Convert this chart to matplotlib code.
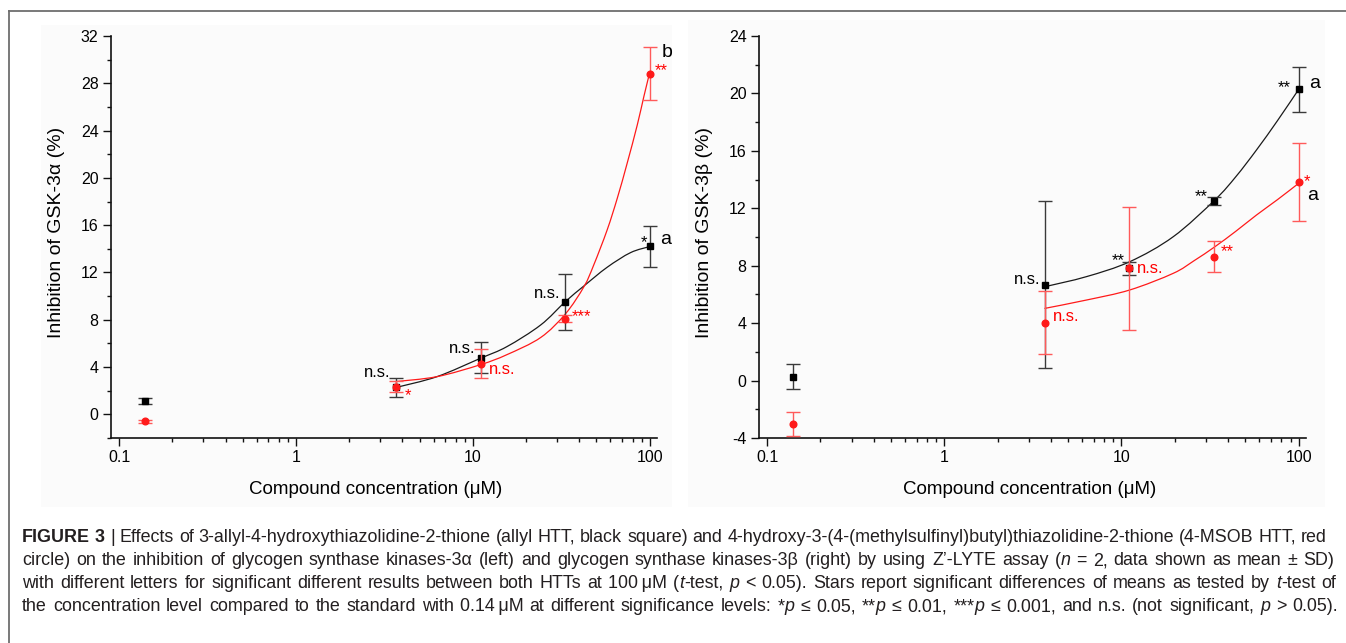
import numpy as np
import matplotlib
matplotlib.use("Agg")
import matplotlib.pyplot as plt
from matplotlib import ticker, font_manager
from matplotlib.patches import Rectangle, PathPatch
from matplotlib.path import Path
from matplotlib.lines import Line2D

# ---------------- data ----------------
conc = [0.14, 3.7, 11.1, 33.3, 100]

# GSK-3alpha (left)
alpha_allyl = [1.1, 2.3, 4.8, 9.5, 14.2]
alpha_allyl_sd = [0.25, 0.8, 1.3, 2.35, 1.7]
alpha_msob = [-0.6, 2.35, 4.3, 8.1, 28.8]
alpha_msob_sd = [0.15, 0.5, 1.2, 0.3, 2.25]

# GSK-3beta (right)
beta_allyl = [0.26, 6.69, 7.81, 12.52, 20.28]
beta_allyl_sd = [0.87, 5.83, 0.45, 0.3, 1.58]
beta_msob = [-3.04, 4.04, 7.81, 8.64, 13.82]
beta_msob_sd = [0.84, 2.2, 4.3, 1.08, 2.72]

# fitted curves (knots of the smooth fit lines)
alpha_allyl_fit_x = [3.72, 6.28, 11.04, 15.6, 24.2, 33.4, 42.5, 57.5, 78.0, 100]
alpha_allyl_fit_y = [2.29, 3.19, 4.74, 5.73, 7.56, 9.54, 10.86, 12.44, 13.68, 14.19]
alpha_msob_fit_x = [3.65, 6.28, 11.04, 15.6, 24.2, 33.4, 42.5, 48.3, 57.5, 65.6, 74.6, 85.1, 92.7, 100]
alpha_msob_fit_y = [2.77, 3.19, 4.2, 5.05, 6.5, 8.5, 10.8, 12.64, 15.6, 18.28, 21.24, 24.48, 26.88, 28.9]

beta_allyl_fit_x = [3.7, 6.35, 11.14, 19.6, 33.65, 44.2, 57.8, 75.9, 100]
beta_allyl_fit_y = [6.54, 7.24, 8.28, 10.02, 12.58, 14.2, 16.06, 18.1, 20.28]
beta_msob_fit_x = [3.7, 6.35, 11.14, 19.6, 25.7, 33.65, 44.2, 57.8, 75.9, 100]
beta_msob_fit_y = [5.03, 5.61, 6.31, 7.47, 8.35, 9.32, 10.4, 11.53, 12.6, 13.74]

x_tick_vals = [0.1, 1, 10, 100]
x_tick_labels = ["0.1", "1", "10", "100"]

# significance labels: (text, series, index, dx_px, dy_px, ha, colour, size)
alpha_marks = [
    ("n.s.", "allyl", 1, -6, 15, "right", "black", 12),
    ("*", "msob", 1, 12, -9, "center", "red", 12),
    ("n.s.", "allyl", 2, -5, 9, "right", "black", 12),
    ("n.s.", "msob", 2, 8, -6, "left", "red", 12),
    ("n.s.", "allyl", 3, -5, 9, "right", "black", 12),
    ("***", "msob", 3, 7, 2, "left", "red", 12),
    ("*", "allyl", 4, -6, 4, "center", "black", 12),
    ("a", "allyl", 4, 16, 7, "center", "black", 14),
    ("b", "msob", 4, 17, 21, "center", "black", 14),
    ("**", "msob", 4, 12, 3, "center", "red", 12),
]
beta_marks = [
    ("n.s.", "allyl", 1, -5, 5, "right", "black", 12),
    ("n.s.", "msob", 1, 8, 6, "left", "red", 12),
    ("**", "allyl", 2, -11, 8, "center", "black", 12),
    ("n.s.", "msob", 2, 7, 0, "left", "red", 12),
    ("**", "allyl", 3, -13, 4, "center", "black", 12),
    ("**", "msob", 3, 13, 5, "center", "red", 12),
    ("**", "allyl", 4, -14, 2, "center", "black", 12),
    ("a", "allyl", 4, 16, 6, "center", "black", 14),
    ("*", "msob", 4, 8, 1, "center", "red", 12),
    ("a", "msob", 4, 14, -13, "center", "black", 14),
]

caption_lines = [
    [("FIGURE 3", "bold"), (" | Effects of 3-allyl-4-hydroxythiazolidine-2-thione (allyl HTT, black square) and 4-hydroxy-3-(4-(methylsulfinyl)butyl)thiazolidine-2-thione (4-MSOB HTT, red", "normal")],
    [("circle) on the inhibition of glycogen synthase kinases-3\u03b1 (left) and glycogen synthase kinases-3\u03b2 (right) by using Z\u2019-LYTE assay (", "normal"), ("n", "italic"), (" = 2, data shown as mean \u00b1 SD)", "normal")],
    [("with different letters for significant different results between both HTTs at 100\u2009\u03bcM (", "normal"), ("t", "italic"), ("-test, ", "normal"), ("p", "italic"), (" < 0.05). Stars report significant differences of means as tested by ", "normal"), ("t", "italic"), ("-test of", "normal")],
    [("the concentration level compared to the standard with 0.14\u2009\u03bcM at different significance levels: *", "normal"), ("p", "italic"), (" \u2264 0.05, **", "normal"), ("p", "italic"), (" \u2264 0.01, ***", "normal"), ("p", "italic"), (" \u2264 0.001, and n.s. (not significant, ", "normal"), ("p", "italic"), (" > 0.05).", "normal")],
]

# ---------------- style ----------------
installed = {f.name for f in font_manager.fontManager.ttflist}
axis_font = "Liberation Sans" if "Liberation Sans" in installed else "DejaVu Sans"
cap_font = "Liberation Sans Narrow" if "Liberation Sans Narrow" in installed else axis_font
plt.rcParams["font.family"] = [axis_font, "DejaVu Sans"]
plt.rcParams["axes.unicode_minus"] = False

W, H = 1346, 643
fig = plt.figure(figsize=(W / 100, H / 100), dpi=100)
fig.patch.set_facecolor("white")

# faint panel backgrounds and frame
for (x0, y0, x1, y1) in [(41, 25, 672, 507), (688, 20, 1325, 507)]:
    fig.patches.append(Rectangle((x0 / W, 1 - y1 / H), (x1 - x0) / W, (y1 - y0) / H,
                                 transform=fig.transFigure, facecolor="#fbfbfb",
                                 edgecolor="none", zorder=-5))
fig.lines.append(Line2D([9 / W, 1], [1 - 10.5 / H, 1 - 10.5 / H], transform=fig.transFigure,
                        color="#6e6e6e", lw=1.3))
fig.lines.append(Line2D([9 / W, 9 / W], [0, 1 - 10.5 / H], transform=fig.transFigure,
                        color="#6e6e6e", lw=1.3))

ax1 = fig.add_axes([111 / W, 1 - 438 / H, 546 / W, 402 / H])
ax2 = fig.add_axes([759 / W, 1 - 438 / H, 547 / W, 402 / H])

BLACK_ERR = "#3a3a3a"
RED = "#ff1a1a"
RED_ERR = "#ff5a5a"


def smooth_curve(ax, xs, ys, color, z):
    """Draw a smooth Bezier line through the knots (smoothing in log-x space)."""
    u = np.log10(np.asarray(xs, float))
    v = np.asarray(ys, float)
    n = len(u)
    verts = [(xs[0], ys[0])]
    codes = [Path.MOVETO]
    for i in range(n - 1):
        i0 = max(i - 1, 0)
        i3 = min(i + 2, n - 1)
        c1u = u[i] + (u[i + 1] - u[i0]) / 6.0
        c1v = v[i] + (v[i + 1] - v[i0]) / 6.0
        c2u = u[i + 1] - (u[i3] - u[i]) / 6.0
        c2v = v[i + 1] - (v[i3] - v[i]) / 6.0
        verts += [(10 ** c1u, c1v), (10 ** c2u, c2v), (xs[i + 1], ys[i + 1])]
        codes += [Path.CURVE4] * 3
    ax.add_patch(PathPatch(Path(verts, codes), fill=False, edgecolor=color, lw=0.9,
                           zorder=z, capstyle="round", joinstyle="round"))


def draw_panel(ax, allyl, allyl_sd, msob, msob_sd, afx, afy, mfx, mfy, marks, ylim, ylabel, xl_x):
    ax.set_facecolor("none")
    ax.set_xscale("log")
    smooth_curve(ax, afx, afy, "#1a1a1a", 2)
    smooth_curve(ax, mfx, mfy, RED, 3)
    ax.errorbar(conc, allyl, yerr=allyl_sd, fmt="s", color="black", ms=4.5,
                ecolor=BLACK_ERR, elinewidth=1.0, capsize=4.8, capthick=1.0, zorder=4)
    ax.errorbar(conc, msob, yerr=msob_sd, fmt="o", color=RED, ms=4.8,
                ecolor=RED_ERR, elinewidth=1.0, capsize=4.8, capthick=1.0, zorder=5)
    ax.set_xlim(0.0901, 110)
    ax.set_ylim(*ylim)
    ax.xaxis.set_major_locator(ticker.FixedLocator(x_tick_vals))
    ax.xaxis.set_major_formatter(ticker.FixedFormatter(x_tick_labels))
    ax.xaxis.set_minor_locator(ticker.LogLocator(base=10, subs=np.arange(2, 10), numticks=20))
    ax.xaxis.set_minor_formatter(ticker.NullFormatter())
    ax.yaxis.set_major_locator(ticker.MultipleLocator(4))
    ax.yaxis.set_minor_locator(ticker.MultipleLocator(2))
    for s in ["top", "right"]:
        ax.spines[s].set_visible(False)
    for s in ["left", "bottom"]:
        ax.spines[s].set_linewidth(1.2)
        ax.spines[s].set_color("#111111")
    ax.tick_params(which="major", direction="out", length=5.5, width=1.0, labelsize=11.5,
                   pad=3.5, color="#111111")
    ax.tick_params(which="minor", direction="out", length=3.2, width=1.0, color="#111111")
    ax.set_xlabel("Compound concentration (\u03bcM)", fontsize=13.5, va="center")
    ax.xaxis.set_label_coords(xl_x, -0.129)
    ax.set_ylabel(ylabel, fontsize=14, va="center")
    ax.yaxis.set_label_coords(-0.099, 0.511)
    series = {"allyl": allyl, "msob": msob}
    for txt, ser, i, dx, dy, ha, col, size in marks:
        ax.annotate(txt, xy=(conc[i], series[ser][i]), xytext=(dx * 0.72, dy * 0.72),
                    textcoords="offset points", ha=ha, va="center", color=col,
                    fontsize=size, zorder=6)


draw_panel(ax1, alpha_allyl, alpha_allyl_sd, alpha_msob, alpha_msob_sd,
           alpha_allyl_fit_x, alpha_allyl_fit_y, alpha_msob_fit_x, alpha_msob_fit_y,
           alpha_marks, (-2, 32), "Inhibition of GSK-3\u03b1 (%)", 0.485)
draw_panel(ax2, beta_allyl, beta_allyl_sd, beta_msob, beta_msob_sd,
           beta_allyl_fit_x, beta_allyl_fit_y, beta_msob_fit_x, beta_msob_fit_y,
           beta_marks, (-4, 24), "Inhibition of GSK-3\u03b2 (%)", 0.494)

# ---------------- caption (justified) ----------------
renderer = fig.canvas.get_renderer()
style_kw = {"normal": {}, "bold": {"fontweight": "bold"}, "italic": {"fontstyle": "italic"}}
CAP_FAM = [cap_font, "DejaVu Sans"]


def width_of(s, fs, style="normal"):
    t = fig.text(0, 0, s, fontsize=fs, family=CAP_FAM, **style_kw[style])
    w = t.get_window_extent(renderer).width
    t.remove()
    return w


def build_tokens(runs):
    toks = []
    pending_gap = False
    for text, style in runs:
        buf = ""
        for ch in text:
            if ch == " ":
                if buf:
                    toks.append([buf, style, pending_gap])
                    buf = ""
                    pending_gap = False
                pending_gap = True if toks else False
            else:
                buf += ch
        if buf:
            toks.append([buf, style, pending_gap])
            pending_gap = False
    return toks


def line_natural_width(toks, fs):
    sw = width_of("n n", fs) - width_of("nn", fs)
    w = sum(width_of(p, fs, st) for p, st, g in toks)
    ngaps = sum(1 for p, st, g in toks if g)
    return w, ngaps, sw


line_ends = [1327, 1334, 1336, 1338]
line_base = [542, 565, 588, 611]
all_toks = [build_tokens(r) for r in caption_lines]

trial = 10.0
fs_candidates = []
for toks, end in zip(all_toks, line_ends):
    w, ng, sw = line_natural_width(toks, trial)
    fs_candidates.append(trial * (end - 22) / (w + ng * sw))
cap_fs = min(fs_candidates)

for toks, end, yb in zip(all_toks, line_ends, line_base):
    w, ng, sw = line_natural_width(toks, cap_fs)
    gap = (end - 22 - w) / ng if ng else sw
    x = 22.0
    for p, st, g in toks:
        if g:
            x += gap
        t = fig.text(x / W, 1 - yb / H, p, fontsize=cap_fs, ha="left", va="baseline",
                     color="#231f20", family=CAP_FAM, **style_kw[st])
        x += t.get_window_extent(renderer).width

fig.savefig("out.png", dpi=100, facecolor="white")
